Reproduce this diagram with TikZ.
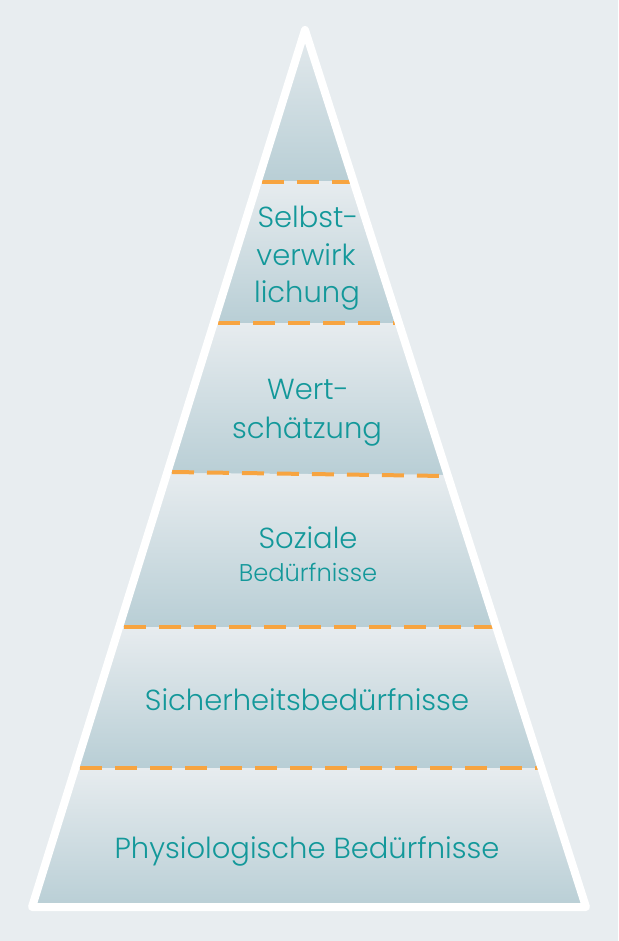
\documentclass[tikz,border=0pt]{standalone}
\usepackage{fontspec}
\setmainfont{Poppins}[UprightFont=* Light]
\definecolor{bgc}{HTML}{E8EDF0}
\definecolor{toplight}{HTML}{E7ECEF}
\definecolor{botdark}{HTML}{B8CED5}
\definecolor{dashor}{HTML}{F7A440}
\definecolor{tealtxt}{HTML}{13989A}
\begin{document}
\begin{tikzpicture}[x=1pt,y=-1pt,
  layerfill/.style={top color=toplight,bottom color=botdark,draw=none},
  sep/.style={draw=dashor,line width=4pt,dash pattern=on 22pt off 13pt},
  lbl/.style={text=tealtxt,font=\fontsize{29}{34}\selectfont,anchor=base,inner sep=0pt},
  lblsmall/.style={text=tealtxt,font=\fontsize{24.2}{28}\selectfont,anchor=base,inner sep=0pt}]
\fill[bgc] (0,0) rectangle (618,941);
\useasboundingbox (0,0) rectangle (618,941);
\coordinate (apex) at (305,30);
\coordinate (bl) at (32,907);
\coordinate (br) at (586,907);
\begin{scope}
  \clip (apex) -- (bl) -- (br) -- cycle;
  \shade[layerfill] (0,20) rectangle (618,182);
  \shade[layerfill] (0,182) rectangle (618,323);
  \shade[layerfill] (0,323) -- (618,323) -- (618,476) -- (0,472) -- cycle;
  \shade[layerfill] (0,472) -- (618,476) -- (618,627) -- (0,627) -- cycle;
  \shade[layerfill] (0,627) rectangle (618,768);
  \shade[layerfill] (0,768) rectangle (618,910);
  \draw[sep] (262,182) -- (360,182);
  \draw[sep] (218,323) -- (400,323);
  \draw[sep] (172,472) -- (445,476);
  \draw[sep] (124,627) -- (495,627);
  \draw[sep] (80,768) -- (540,768);
\end{scope}
\draw[white,line width=8pt,line join=round,line cap=round] (apex) -- (bl) -- (br) -- cycle;
\node[lbl] (s1) at (308,227) {Selbst-};
\node[lbl] (s2) at (306,265) {verwirk};
\node[lbl] (s3) at (307,302) {lichung};
\node[lbl] (w1) at (308,399) {Wert-};
\node[lbl] (w2) at (307,438) {schätzung};
\node[lbl] (z1) at (308,548) {Soziale};
\node[lblsmall] (z2) at (308,581) {Bedürfnisse};
\node[lbl] (si) at (307,710) {Sicherheitsbedürfnisse};
\node[lbl] (ph) at (307,858) {Physiologische Bedürfnisse};
\end{tikzpicture}
\end{document}
